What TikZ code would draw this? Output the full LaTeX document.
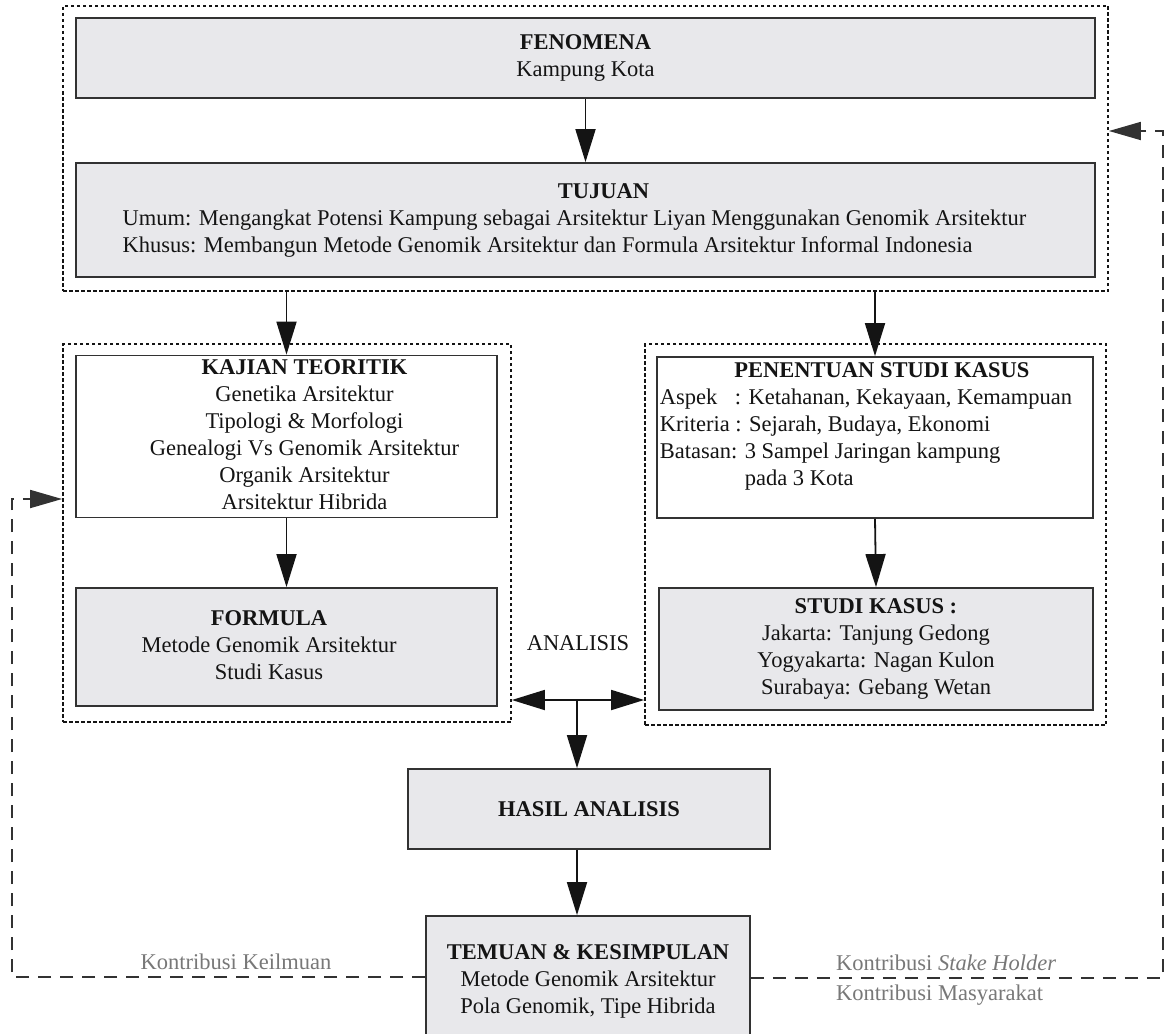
\documentclass[tikz,border=0pt]{standalone}
\usepackage{fontspec}
\setmainfont{Liberation Serif}
\usetikzlibrary{arrows.meta,calc}
\definecolor{boxfill}{RGB}{232,232,235}
\definecolor{edge}{RGB}{50,50,50}
\definecolor{ink}{RGB}{20,20,20}
\definecolor{soft}{RGB}{120,120,120}
\newcommand\mycol[1]{\begin{tabular}{@{}c@{}}#1\end{tabular}}
\begin{document}
\begin{tikzpicture}[x=1pt,y=-1pt,
  font=\fontsize{22.5}{27}\selectfont, text=ink,
  box/.style={draw=edge, line width=1.8pt, fill=boxfill, inner sep=0pt},
  wbox/.style={box, fill=white},
  grp/.style={draw=ink, line width=1.8pt, dash pattern=on 3.5pt off 2.5pt, inner sep=0pt},
  arr/.style={draw=ink, line width=1.8pt, -{Triangle[length=33pt,width=20pt]}},
  fb/.style={draw=edge, line width=1.8pt, dash pattern=on 13pt off 9pt, -{Triangle[length=32pt,width=18pt]}},
  lbl/.style={text=soft, inner sep=0pt},
]
\useasboundingbox (0,0) rectangle (1166,1033);
\clip (0,0) rectangle (1166,1033);
\fill[white] (0,0) rectangle (1166,1033);

% group frames
\node[grp, minimum width=1045pt, minimum height=285pt] (og) at (585.5,148.5) {};
\node[grp, minimum width=448pt, minimum height=378pt] (lg) at (287,533) {};
\node[grp, minimum width=461pt, minimum height=381pt] (rg) at (875.5,534.5) {};

% boxes
\node[box, minimum width=1019pt, minimum height=80pt] (fen) at (585.5,58)
  {\mycol{\textbf{FENOMENA}\\Kampung Kota}};
\node[box, minimum width=1019pt, minimum height=114pt] (tuj) at (585.5,220)
  {\begin{tabular}{@{}l@{}}\multicolumn{1}{@{}c@{}}{\hspace*{58pt}\textbf{TUJUAN}}\\
   Umum: Mengangkat Potensi Kampung sebagai Arsitektur Liyan Menggunakan Genomik Arsitektur\\
   Khusus: Membangun Metode Genomik Arsitektur dan Formula Arsitektur Informal Indonesia\end{tabular}\hspace*{22pt}};
\node[wbox, minimum width=421pt, minimum height=161pt] (kaj) at (286.5,436.5)
  {\hspace*{36pt}\mycol{\textbf{KAJIAN TEORITIK}\\Genetika Arsitektur\\Tipologi \& Morfologi\\Genealogi Vs Genomik Arsitektur\\Organik Arsitektur\\Arsitektur Hibrida}};
\node[box, minimum width=421pt, minimum height=118pt] (form) at (286.5,647)
  {\mycol{\textbf{FORMULA}\\Metode Genomik Arsitektur\\Studi Kasus}\hspace*{35pt}};
\node[wbox, minimum width=436pt, minimum height=161pt] (pen) at (875,437.5)
  {\begin{tabular}{@{}l@{}}\multicolumn{1}{@{}c@{}}{\hspace*{32pt}\textbf{PENENTUAN STUDI KASUS}}\\
   \makebox[75pt][l]{Aspek}: Ketahanan, Kekayaan, Kemampuan\\
   Kriteria : Sejarah, Budaya, Ekonomi\\
   Batasan: 3 Sampel Jaringan kampung\\
   \hspace*{85pt}pada 3 Kota\\[23pt]\end{tabular}\hspace*{18pt}};
\node[box, minimum width=434pt, minimum height=122pt] (stud) at (876,649)
  {\mycol{\textbf{STUDI KASUS :}\\Jakarta: Tanjung Gedong\\Yogyakarta: Nagan Kulon\\Surabaya: Gebang Wetan}};
\node[box, minimum width=362pt, minimum height=80pt] (hasil) at (589,809)
  {\textbf{HASIL ANALISIS}};
\node[box, minimum width=324pt, minimum height=130pt] (tem) at (588,981)
  {\mycol{\textbf{TEMUAN \& KESIMPULAN}\\Metode Genomik Arsitektur\\Pola Genomik, Tipe Hibrida}};

% labels
\node[inner sep=0pt] (anal) at (578,643) {ANALISIS};
\node[lbl] (kk) at (236,962) {Kontribusi Keilmuan};
\node[lbl, anchor=west] (ksh) at (836,963) {Kontribusi \textit{Stake Holder}};
\node[lbl, anchor=west] (km) at (836,995) {Kontribusi Masyarakat};

% main arrows
\draw[arr] (fen.south) -- (tuj.north);
\draw[arr] (og.south -| kaj.north) -- (kaj.north);
\draw[arr] (og.south -| pen.north) -- (pen.north);
\draw[arr] (kaj.south) -- (form.north);
\draw[arr] (pen.south) -- (stud.north);
\coordinate (j) at (577,700);
\draw[arr] (j) -- (j -| lg.east);
\draw[arr] (j) -- (j -| rg.west);
\draw[arr] (j) -- (j |- hasil.north);
\draw[arr] (hasil.south -| j) -- (tem.north -| j);

% feedback loops
\coordinate (l1) at (12,977);
\coordinate (l2) at (12,499);
\draw[fb] (tem.west |- l1) -- (l1) -- (l2) -- (l2 -| lg.west);
\coordinate (r1) at (1163,978);
\coordinate (r2) at (1163,131);
\draw[fb] (tem.east |- r1) -- (r1) -- (r2) -- (r2 -| og.east);
\end{tikzpicture}
\end{document}
